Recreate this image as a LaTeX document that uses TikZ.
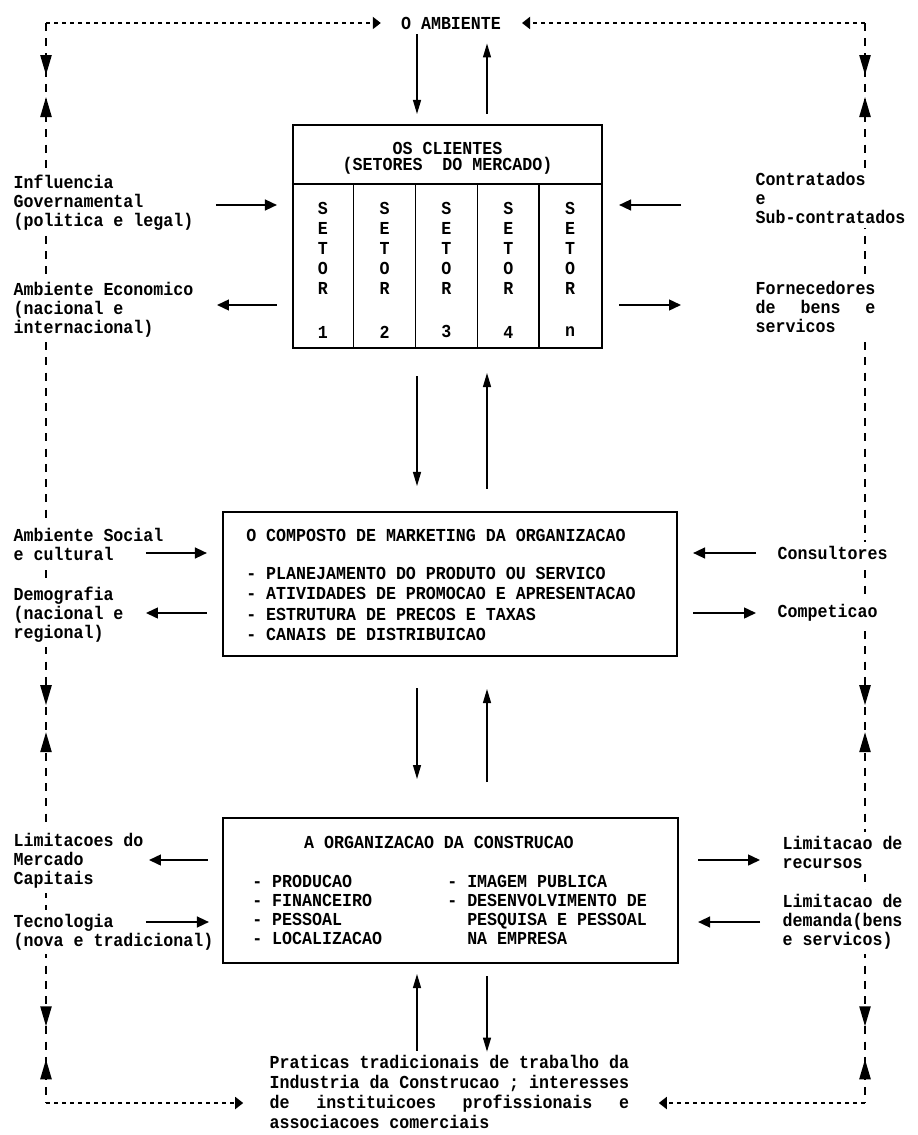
\documentclass[tikz,border=0pt]{standalone}
\usepackage{fontspec}
\newfontfamily\dotfont[FakeStretch=0.91]{Liberation Mono}
\usetikzlibrary{calc,arrows.meta,decorations.markings}

\begin{document}
\begin{tikzpicture}[x=0.025cm,y=-0.025cm,
  vtip/.tip={Triangle[length=0.5cm,width=0.28cm]},
  txt/.style={font=\dotfont\bfseries\fontsize{13}{13.5}\selectfont,align=left,inner xsep=1pt,inner ysep=3pt,fill=white},
  ttl/.style={font=\dotfont\bfseries\fontsize{13}{11}\selectfont,inner sep=0pt},
  item/.style={font=\dotfont\bfseries\fontsize{13}{#1}\selectfont,align=left,inner sep=0pt},
  setor/.style={font=\dotfont\bfseries\fontsize{13}{14.2}\selectfont,align=center,inner sep=0pt},
  box/.style={draw,line width=1.4pt,rectangle,inner sep=0pt},
  harr/.style={line width=1.4pt,-{Triangle[length=0.3cm,width=0.27cm]}},
  varr/.style={line width=0.9pt,-{Triangle[length=0.35cm,width=0.2cm]}},
  dotl/.style={line width=1.3pt,dash pattern=on 0.1cm off 0.1cm,-{Triangle[length=0.2cm,width=0.3cm]}},
  dashl/.style={line width=1.3pt,dash pattern=on 0.2cm off 0.18cm,
    postaction={decorate,decoration={markings,
      mark=at position 1.3cm with {\arrow{vtip}},
      mark=at position 1.85cm with {\arrowreversed{vtip}},
      mark=at position 17.05cm with {\arrow{vtip}},
      mark=at position 17.725cm with {\arrowreversed{vtip}},
      mark=at position 25.075cm with {\arrow{vtip}},
      mark=at position 25.9cm with {\arrowreversed{vtip}}}}}]
  \useasboundingbox (0,0) rectangle (917,1135);

  \coordinate (tl) at (46,23);
  \coordinate (tr) at (865,23);
  \coordinate (bl) at (46,1103);
  \coordinate (br) at (865,1103);
  \coordinate (dcol) at (417,0);
  \coordinate (ucol) at (487,0);

  \draw[dashl] (tl) -- (bl);
  \draw[dashl] (tr) -- (br);

  % environment
  \node[ttl] (amb) at (451,23) {O AMBIENTE};
  \node[txt,anchor=west] (infl) at (12,203) {Influencia\\Governamental\\(politica e legal)};
  \node[txt,anchor=west] (econ) at (12,310) {Ambiente Economico\\(nacional e\\internacional)};
  \node[txt,anchor=west] (social) at (12,544) {Ambiente Social\\e cultural};
  \node[txt,anchor=west] (demog) at (12,615) {Demografia\\(nacional e\\regional)};
  \node[txt,anchor=west] (limmerc) at (12,861) {Limitacoes do\\Mercado\\Capitais};
  \node[txt,anchor=west] (tecnol) at (12,932) {Tecnologia\\(nova e tradicional)};
  \node[txt,anchor=west] (contr) at (754,198) {Contratados\\e\\Sub-contratados};
  \node[txt,anchor=west] (forn) at (754,307) {Fornecedores\\\makebox[6.55em][l]{de\hfill bens\hfill e}\\servicos};
  \node[txt,anchor=west] (consult) at (776,553) {Consultores};
  \node[txt,anchor=west] (compet) at (776,613) {Competicao};
  \node[txt,anchor=west] (limrec) at (781,852) {Limitacao de\\recursos};
  \node[txt,anchor=west] (limdem) at (781,922) {Limitacao de\\demanda(bens\\e servicos)};
  \node[txt,anchor=west,font=\dotfont\bfseries\fontsize{13}{14.3}\selectfont] (pratic) at (268,1092)
    {Praticas tradicionais de trabalho da\\Industria da Construcao ; interesses\\\makebox[19.66em][l]{de\hfill instituicoes\hfill profissionais\hfill e}\\associacoes comerciais};

  \draw[dotl,shorten >=0.5cm] (tl) -- (amb.west);
  \draw[dotl,shorten >=0.52cm] (tr) -- (amb.east);
  \draw[dotl,shorten >=0.62cm] (bl) -- (bl -| pratic.west);
  \draw[dotl,shorten >=0.7cm] (br) -- (br -| pratic.east);

  % the three blocks
  \node[box,minimum width=7.725cm,minimum height=5.575cm] (clientes) at (447.5,236.5) {};
  \node[box,minimum width=11.35cm,minimum height=3.6cm] (mkt) at (450,584) {};
  \node[box,minimum width=11.375cm,minimum height=3.625cm] (org) at (450.5,890.5) {};

  \draw[line width=1pt] ($(clientes.north west)+(0,60)$) -- ($(clientes.north east)+(0,60)$);
  \node[ttl,align=center] (cltitle) at ($(clientes.north)+(0,34.5)$) {OS CLIENTES\\(SETORES~~DO MERCADO)};
  \foreach \i in {1,...,4}
    \draw[line width=1pt] ($(clientes.north west)+({\i*61.8},60)$) -- ($(clientes.south west)+({\i*61.8},0)$);
  \foreach \i/\lab in {1/1,2/2,3/3,4/4,5/n} {
    \node[setor] (s\i) at ($(clientes.north west)+({(\i-0.5)*61.8},124)$) {S\\E\\T\\O\\R};
    \node[setor] (n\i) at ($(clientes.north west)+({(\i-0.5)*61.8},208)$) {\lab};
  }

  \node[ttl,anchor=west] (mkttitle) at (246,535) {O COMPOSTO DE MARKETING DA ORGANIZACAO};
  \node[item=14.5pt,anchor=west] (mktitems) at (246,604)
    {- PLANEJAMENTO DO PRODUTO OU SERVICO\\- ATIVIDADES DE PROMOCAO E APRESENTACAO\\- ESTRUTURA DE PRECOS E TAXAS\\- CANAIS DE DISTRIBUICAO};

  \node[ttl] (orgtitle) at (439,842) {A ORGANIZACAO DA CONSTRUCAO};
  \node[item=13.3pt,anchor=west] (orgleft) at (252,910) {- PRODUCAO\\- FINANCEIRO\\- PESSOAL\\- LOCALIZACAO};
  \node[item=13.3pt,anchor=west] (orgright) at (447,910)
    {- IMAGEM PUBLICA\\- DESENVOLVIMENTO DE\\\phantom{- }PESQUISA E PESSOAL\\\phantom{- }NA EMPRESA};

  % side arrows
  \draw[harr] ($(clientes.west)+(-76,-31.5)$) -- ($(clientes.west)+(-15,-31.5)$);
  \draw[harr] ($(clientes.west)+(-15,68.5)$) -- ($(clientes.west)+(-75,68.5)$);
  \draw[harr] ($(clientes.east)+(78,-31.5)$) -- ($(clientes.east)+(16,-31.5)$);
  \draw[harr] ($(clientes.east)+(16,68.5)$) -- ($(clientes.east)+(78,68.5)$);
  \draw[harr] ($(mkt.west)+(-76,-31)$) -- ($(mkt.west)+(-15,-31)$);
  \draw[harr] ($(mkt.west)+(-15,29)$) -- ($(mkt.west)+(-76,29)$);
  \draw[harr] ($(mkt.east)+(78,-31)$) -- ($(mkt.east)+(15,-31)$);
  \draw[harr] ($(mkt.east)+(15,29)$) -- ($(mkt.east)+(78,29)$);
  \draw[harr] ($(org.west)+(-14,-30.5)$) -- ($(org.west)+(-73,-30.5)$);
  \draw[harr] ($(org.west)+(-76,31.5)$) -- ($(org.west)+(-13,31.5)$);
  \draw[harr] ($(org.east)+(19,-30.5)$) -- ($(org.east)+(81,-30.5)$);
  \draw[harr] ($(org.east)+(81,31.5)$) -- ($(org.east)+(19,31.5)$);

  % vertical flow
  \draw[varr] ($(amb.south -| dcol)+(0,5)$) -- ($(clientes.north -| dcol)+(0,-10)$);
  \draw[varr] ($(clientes.north -| ucol)+(0,-10)$) -- ($(amb.south -| ucol)+(0,14)$);
  \draw[varr] ($(clientes.south -| dcol)+(0,27)$) -- ($(mkt.north -| dcol)+(0,-25)$);
  \draw[varr] ($(mkt.north -| ucol)+(0,-22)$) -- ($(clientes.south -| ucol)+(0,24)$);
  \draw[varr] ($(mkt.south -| dcol)+(0,31)$) -- ($(org.north -| dcol)+(0,-38)$);
  \draw[varr] ($(org.north -| ucol)+(0,-35)$) -- ($(mkt.south -| ucol)+(0,32)$);
  \draw[varr] (pratic.north -| dcol) -- ($(org.south -| dcol)+(0,10)$);
  \draw[varr] ($(org.south -| ucol)+(0,12)$) -- ($(pratic.north -| ucol)+(0,1)$);
\end{tikzpicture}
\end{document}
